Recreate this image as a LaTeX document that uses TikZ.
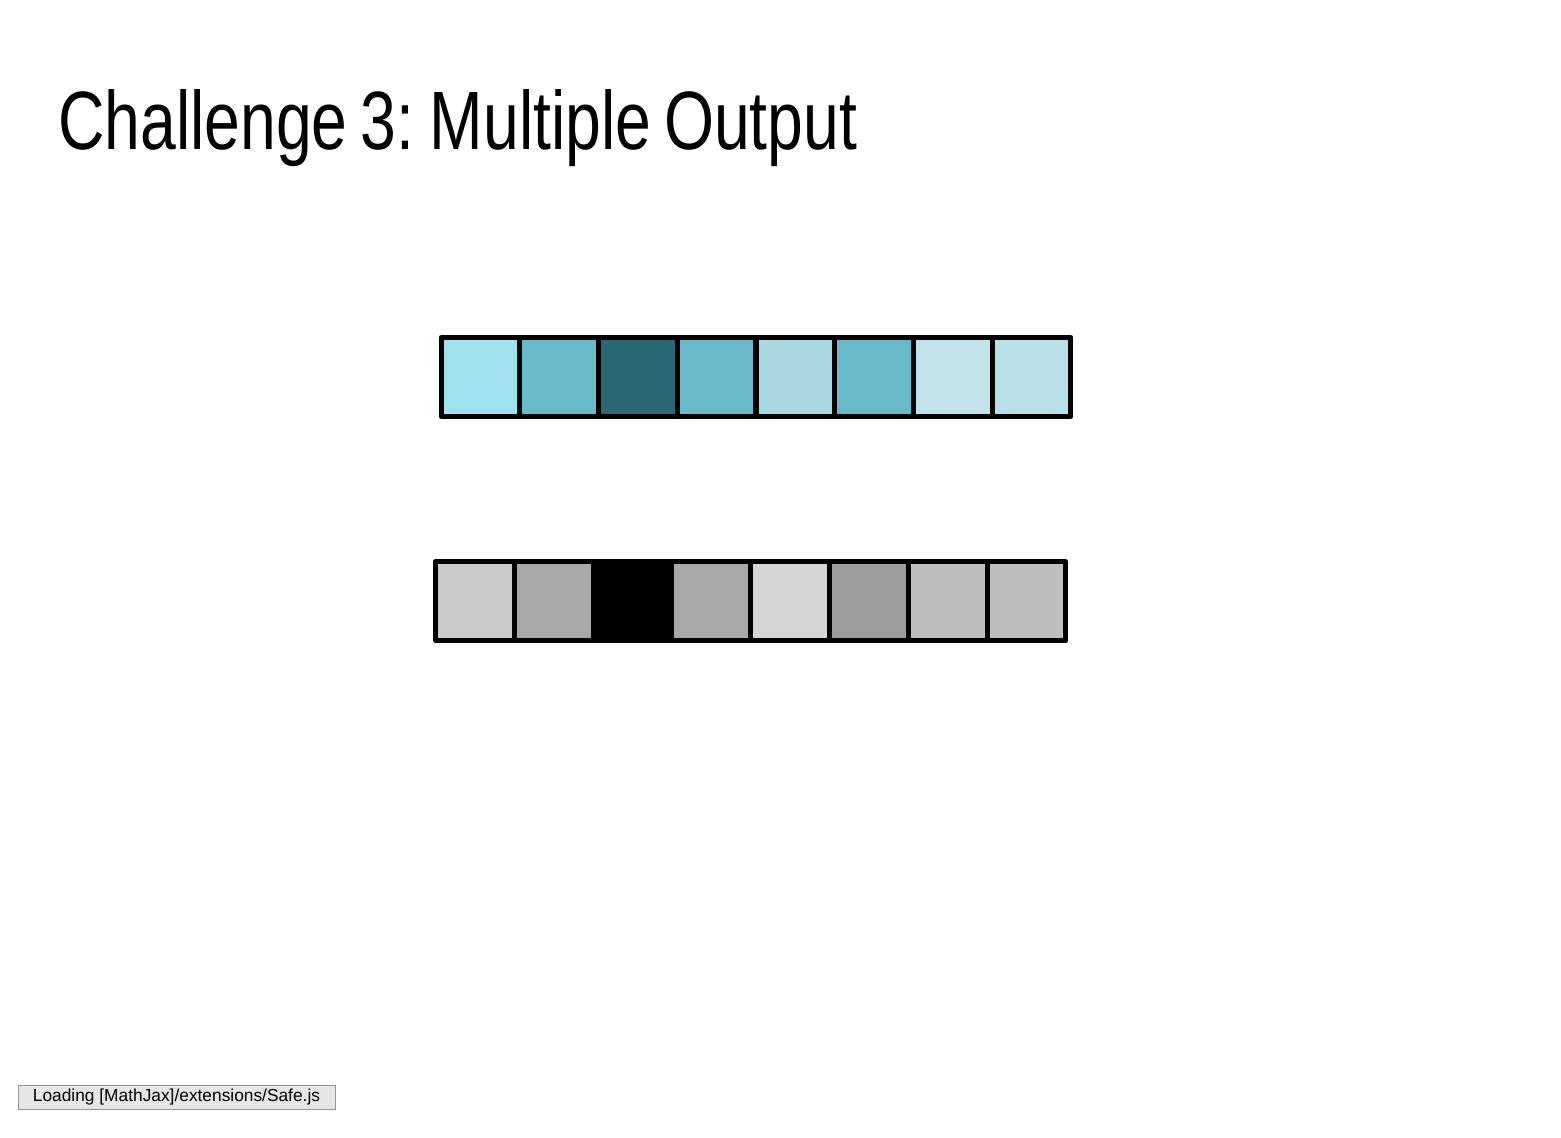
\documentclass[tikz,border=0pt]{standalone}
\usepackage{fontspec}
\setmainfont{Liberation Sans}
\usepackage{graphicx}
\definecolor{ta}{HTML}{A0E1EE}
\definecolor{tb}{HTML}{69BAC8}
\definecolor{tc}{HTML}{2B6873}
\definecolor{td}{HTML}{A8D8E0}
\definecolor{te}{HTML}{C0E2E8}
\definecolor{tf}{HTML}{B8DFE5}
\definecolor{ga}{HTML}{CBCBCB}
\definecolor{gb}{HTML}{A8A8A8}
\definecolor{gd}{HTML}{D5D5D5}
\definecolor{ge}{HTML}{9D9D9D}
\definecolor{gf}{HTML}{BEBEBE}
\definecolor{loadfill}{HTML}{E6E6E6}
\definecolor{loaddraw}{HTML}{959595}
\tikzset{
  cell/.style={draw=black, line width=3.75pt, rectangle, minimum width=59pt, minimum height=59.25pt, inner sep=0pt, outer sep=0pt, line join=round},
  titletext/.style={anchor=base west, inner sep=0pt, text=black},
  loadbox/.style={draw=loaddraw, fill=loadfill, line width=0.75pt, minimum width=237.75pt, minimum height=18pt, inner sep=0pt, font=\fontsize{13pt}{15pt}\selectfont}
}
\begin{document}
\begin{tikzpicture}[x=0.75pt,y=-0.75pt]
\useasboundingbox (0,0) rectangle (1561,1138);
\node[titletext] (title) at (58,150) {\resizebox{599.25pt}{45pt}{\fontsize{60pt}{70pt}\selectfont\spaceskip=0.2em Challenge 3:\hspace{-0.05em} Multiple Output}};
% top row
\foreach \i/\c in {1/ta,2/tb,3/tc,4/tb,5/td,6/tb,7/te,8/tf}{
  \node[cell, fill=\c] (t\i) at ({441+78.75*(\i-0.5)},377) {};
}
% bottom row
\foreach \i/\c in {1/ga,2/gb,3/black,4/gb,5/gd,6/ge,7/gf,8/gf}{
  \node[cell, fill=\c] (b\i) at ({435.5+78.8*(\i-0.5)},601) {};
}
\node[loadbox] (load) at (176.5,1097) {Loading [MathJax]/extensions/Safe.js};
\end{tikzpicture}
\end{document}
